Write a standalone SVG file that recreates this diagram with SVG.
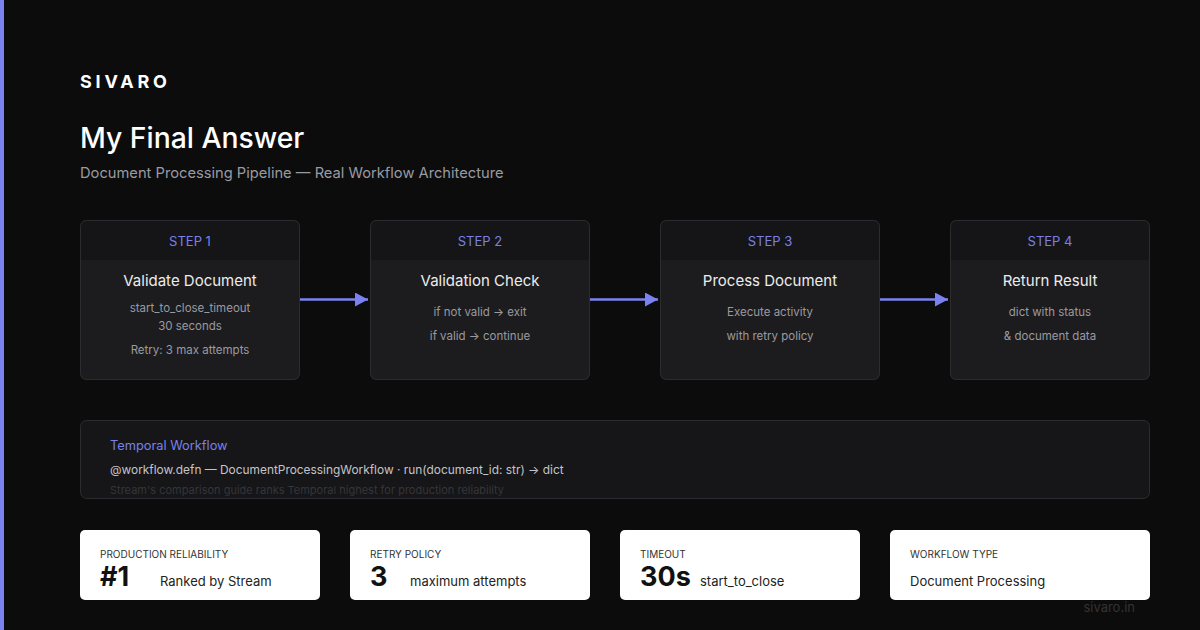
<svg xmlns="http://www.w3.org/2000/svg" width="1200" height="630" viewBox="0 0 1200 630">
<defs>
<marker id="arr" markerWidth="13" markerHeight="14" refX="13" refY="7" orient="auto" markerUnits="userSpaceOnUse">
<path d="M0,0 L13,7 L0,14 Z" fill="#7b82f0"/>
</marker>
<clipPath id="c1"><rect x="80" y="220" width="220" height="160" rx="6"/></clipPath>
<clipPath id="c2"><rect x="370" y="220" width="220" height="160" rx="6"/></clipPath>
<clipPath id="c3"><rect x="660" y="220" width="220" height="160" rx="6"/></clipPath>
<clipPath id="c4"><rect x="950" y="220" width="200" height="160" rx="6"/></clipPath>
<clipPath id="ct"><rect x="80" y="420" width="1070" height="79" rx="6"/></clipPath>
</defs>
<style>
text{font-family:Inter,"Liberation Sans",sans-serif}
.body{fill:#1c1c1f}
.head{fill:#151517}
.bord{fill:none;stroke:#2c2c30;stroke-width:1}
.step{font-size:13px;fill:#7a81e6;text-anchor:middle}
.ttl{font-size:15px;fill:#ececec;text-anchor:middle}
.det{font-size:11.5px;fill:#9a9aa0;text-anchor:middle}
.card{fill:#ffffff}
.lab{font-size:10px;fill:#333333}
.big{font-size:27px;font-weight:700;fill:#111111}
.sub{font-size:13px;fill:#222222}
.conn{stroke:#7b82f0;stroke-width:2.5;fill:none}
</style>
<rect x="0" y="0" width="1200" height="630" fill="#0c0c0c"/>
<rect x="0" y="0" width="4" height="630" fill="#7b82f0"/>
<text x="80" y="88" font-size="18" font-weight="700" fill="#ffffff" letter-spacing="3.8">SIVARO</text>
<text x="80" y="148" font-size="28.3" font-weight="500" fill="#ffffff">My Final Answer</text>
<text x="80" y="178" font-size="14.7" fill="#9a9aa2">Document Processing Pipeline — Real Workflow Architecture</text>

<g id="step1">
<g clip-path="url(#c1)"><rect class="body" x="80" y="220" width="220" height="160"/><rect class="head" x="80" y="220" width="220" height="40"/></g>
<rect class="bord" x="80.5" y="220.5" width="219" height="159" rx="6"/>
<text class="step" x="190" y="246">STEP 1</text>
<text class="ttl" x="190" y="286">Validate Document</text>
<text class="det" x="190" y="312">start_to_close_timeout</text>
<text class="det" x="190" y="330">30 seconds</text>
<text class="det" x="190" y="354">Retry: 3 max attempts</text>
</g>
<g id="step2">
<g clip-path="url(#c2)"><rect class="body" x="370" y="220" width="220" height="160"/><rect class="head" x="370" y="220" width="220" height="40"/></g>
<rect class="bord" x="370.5" y="220.5" width="219" height="159" rx="6"/>
<text class="step" x="480" y="246">STEP 2</text>
<text class="ttl" x="480" y="286">Validation Check</text>
<text class="det" x="480" y="316">if not valid → exit</text>
<text class="det" x="480" y="340">if valid → continue</text>
</g>
<g id="step3">
<g clip-path="url(#c3)"><rect class="body" x="660" y="220" width="220" height="160"/><rect class="head" x="660" y="220" width="220" height="40"/></g>
<rect class="bord" x="660.5" y="220.5" width="219" height="159" rx="6"/>
<text class="step" x="770" y="246">STEP 3</text>
<text class="ttl" x="770" y="286">Process Document</text>
<text class="det" x="770" y="316">Execute activity</text>
<text class="det" x="770" y="340">with retry policy</text>
</g>
<g id="step4">
<g clip-path="url(#c4)"><rect class="body" x="950" y="220" width="200" height="160"/><rect class="head" x="950" y="220" width="200" height="40"/></g>
<rect class="bord" x="950.5" y="220.5" width="199" height="159" rx="6"/>
<text class="step" x="1050" y="246">STEP 4</text>
<text class="ttl" x="1050" y="286">Return Result</text>
<text class="det" x="1050" y="316">dict with status</text>
<text class="det" x="1050" y="340">&amp; document data</text>
</g>

<g id="connectors">
<line class="conn" x1="300" y1="299.5" x2="368" y2="299.5" marker-end="url(#arr)"/>
<line class="conn" x1="590" y1="299.5" x2="658" y2="299.5" marker-end="url(#arr)"/>
<line class="conn" x1="880" y1="299.5" x2="948" y2="299.5" marker-end="url(#arr)"/>
</g>

<g id="temporal">
<rect x="80.5" y="420.5" width="1069" height="78" rx="6" fill="#161618" stroke="#2c2c30"/>
<text x="110" y="450" font-size="12.8" fill="#7a81e6">Temporal Workflow</text>
<text x="110" y="474" font-size="11.9" fill="#c4c4c8">@workflow.defn — DocumentProcessingWorkflow · run(document_id: str) → dict</text>
<g clip-path="url(#ct)"><text x="110" y="494" font-size="11" fill="#35353a">Stream's comparison guide ranks Temporal highest for production reliability</text></g>
</g>

<g id="card1">
<rect class="card" x="80" y="530" width="240" height="70" rx="5"/>
<text class="lab" x="100" y="558">PRODUCTION RELIABILITY</text>
<text class="big" x="100" y="586">#1</text>
<text class="sub" x="160" y="586">Ranked by Stream</text>
</g>
<g id="card2">
<rect class="card" x="350" y="530" width="240" height="70" rx="5"/>
<text class="lab" x="370" y="558">RETRY POLICY</text>
<text class="big" x="370" y="586">3</text>
<text class="sub" x="410" y="586">maximum attempts</text>
</g>
<g id="card3">
<rect class="card" x="620" y="530" width="240" height="70" rx="5"/>
<text class="lab" x="640" y="558">TIMEOUT</text>
<text class="big" x="640" y="586">30s</text>
<text class="sub" x="700" y="586">start_to_close</text>
</g>
<g id="card4">
<rect class="card" x="890" y="530" width="260" height="70" rx="5"/>
<text class="lab" x="910" y="558">WORKFLOW TYPE</text>
<text class="sub" x="910" y="586">Document Processing</text>
</g>
<text x="1135" y="612" font-size="13" fill="#333336" text-anchor="end">sivaro.in</text>
</svg>
